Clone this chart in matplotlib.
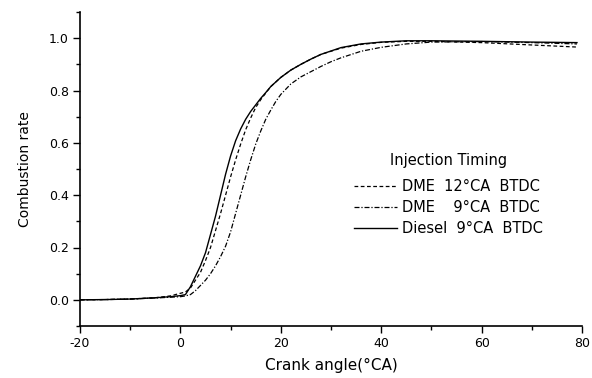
import matplotlib
matplotlib.use("Agg")
import matplotlib.pyplot as plt
from matplotlib.ticker import MultipleLocator

plt.rcParams['font.family'] = ['DejaVu Sans']
plt.rcParams['axes.unicode_minus'] = False

# Crank angle (deg CA) and combustion rate for each case
x_dme12 = [-20, -15, -10, -5, -2, 0, 1, 2, 3, 4, 5, 6, 7, 8, 9, 10, 11, 12, 13, 14, 15, 16, 17, 18, 20, 22, 24, 26, 28, 32, 36, 40, 45, 50, 60, 70, 79]
y_dme12 = [0.0, 0.001, 0.003, 0.008, 0.015, 0.025, 0.03, 0.045, 0.075, 0.105, 0.15, 0.2, 0.265, 0.33, 0.4, 0.47, 0.535, 0.595, 0.65, 0.695, 0.735, 0.765, 0.79, 0.815, 0.85, 0.878, 0.9, 0.92, 0.938, 0.962, 0.976, 0.984, 0.988, 0.988, 0.983, 0.974, 0.966]

x_dme9 = [-20, -15, -10, -5, -2, 0, 1, 2, 3, 4, 5, 6, 7, 8, 9, 10, 11, 12, 13, 14, 15, 16, 17, 18, 19, 20, 21, 22, 24, 26, 28, 30, 32, 36, 40, 45, 50, 60, 70, 79]
y_dme9 = [0.0, 0.001, 0.003, 0.007, 0.01, 0.012, 0.015, 0.02, 0.035, 0.055, 0.075, 0.1, 0.13, 0.165, 0.205, 0.26, 0.33, 0.4, 0.47, 0.535, 0.595, 0.645, 0.69, 0.725, 0.758, 0.785, 0.805, 0.825, 0.852, 0.872, 0.892, 0.91, 0.925, 0.95, 0.965, 0.978, 0.985, 0.987, 0.983, 0.978]

x_diesel = [-20, -15, -10, -5, -2, 0, 1, 2, 3, 4, 5, 6, 7, 8, 9, 10, 11, 12, 13, 14, 15, 16, 17, 18, 20, 22, 24, 26, 28, 32, 36, 40, 45, 50, 60, 70, 79]
y_diesel = [0.0, 0.001, 0.003, 0.008, 0.012, 0.016, 0.02, 0.05, 0.09, 0.13, 0.18, 0.25, 0.32, 0.4, 0.48, 0.55, 0.608, 0.653, 0.69, 0.72, 0.745, 0.77, 0.792, 0.815, 0.85, 0.878, 0.9, 0.92, 0.938, 0.964, 0.978, 0.985, 0.99, 0.99, 0.988, 0.985, 0.983]

labels = ["DME  12\u00b0CA  BTDC", "DME    9\u00b0CA  BTDC", "Diesel  9\u00b0CA  BTDC"]
legend_title = "Injection Timing"
x_label = "Crank angle(\u00b0CA)"
y_label = "Combustion rate"

fig = plt.figure(figsize=(5.92, 3.78), dpi=100)
ax = fig.add_axes([80/592, 52/378, 502/592, 314/378])

ax.plot(x_dme12, y_dme12, color='black', lw=0.9, linestyle=(0, (3, 2)), label=labels[0])
ax.plot(x_dme9, y_dme9, color='black', lw=0.9, linestyle=(0, (4, 1.5, 1, 1.5)), label=labels[1])
ax.plot(x_diesel, y_diesel, color='black', lw=1.0, linestyle='-', label=labels[2])

ax.set_xlim(-20, 80)
ax.set_ylim(-0.1, 1.1)
ax.xaxis.set_major_locator(MultipleLocator(20))
ax.xaxis.set_minor_locator(MultipleLocator(10))
ax.yaxis.set_minor_locator(MultipleLocator(0.1))
ax.set_yticks([0.0, 0.2, 0.4, 0.6, 0.8, 1.0])
ax.set_yticklabels(["0.0", "0.2", "0.4", "0.6", "0.8", "1.0"])
for s in ['top', 'right']:
    ax.spines[s].set_visible(False)
for s in ['left', 'bottom']:
    ax.spines[s].set_linewidth(1.2)
ax.tick_params(which='major', direction='out', length=5, width=1, labelsize=9, pad=3)
ax.tick_params(which='minor', direction='out', length=3, width=1)

ax.set_xlabel(x_label, fontsize=11, labelpad=6)
ax.set_ylabel(y_label, fontsize=10, labelpad=12)

leg = ax.legend(title=legend_title, loc='upper left', bbox_to_anchor=(0.545, 0.552),
                frameon=False, fontsize=10.5, title_fontsize=10.5, handlelength=3.0,
                handletextpad=0.35, labelspacing=0.4, borderaxespad=0, borderpad=0)
leg._legend_box.sep = 0.8 * 10.5

fig.savefig("out.png", dpi=100)
